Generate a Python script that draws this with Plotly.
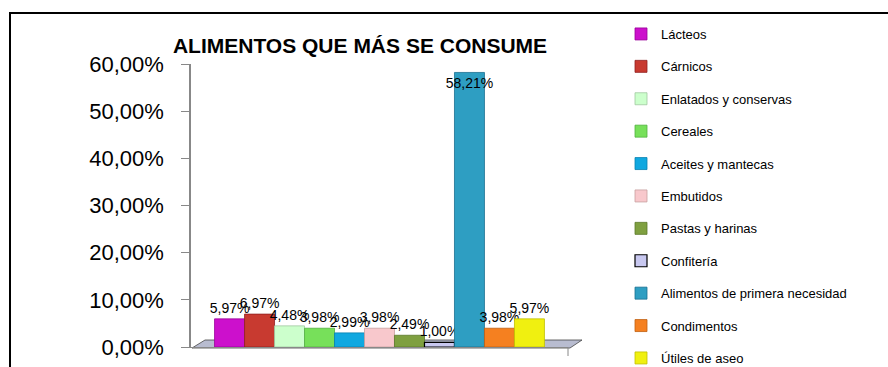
import plotly.graph_objects as go

categories = ["Lácteos", "Cárnicos", "Enlatados y conservas", "Cereales",
              "Aceites y mantecas", "Embutidos", "Pastas y harinas", "Confitería",
              "Alimentos de primera necesidad", "Condimentos", "Útiles de aseo"]
values = [5.97, 6.97, 4.48, 3.98, 2.99, 3.98, 2.49, 1.00, 58.21, 3.98, 5.97]
colors = ["#CC10CC", "#C83A30", "#CCFFCC", "#77E05A", "#10A8E0", "#F8C8CC",
          "#7FA040", "#C8C8F0", "#2E9EC2", "#F58020", "#F0F010"]
line_colors = ["#990099", "#902020", "#A0C8A0", "#50B040", "#0880B0", "#C8A0A0",
               "#5A7828", "#000000", "#1A7090", "#C06010", "#C0C000"]
y_ticks = [0, 10, 20, 30, 40, 50, 60]
y_tick_text = ["0,00%", "10,00%", "20,00%", "30,00%", "40,00%", "50,00%", "60,00%"]

W, H = 888, 367
L, R, T, B = 191, 568, 64, 347

fig = go.Figure()
for i, (c, v) in enumerate(zip(categories, values)):
    tall = v == max(values)
    fig.add_trace(go.Bar(
        x=["g"], y=[v], name=c, legendgroup=c,
        marker=dict(color=colors[i], line=dict(color=line_colors[i], width=0.8 if i != 7 else 1.2)),
        text=[f"{v:.2f}".replace(".", ",") + "%"],
        textposition="inside" if tall else "outside",
        insidetextanchor="end", textangle=0,
        textfont=dict(family="Liberation Sans, Arial", size=14, color="#000"),
        cliponaxis=False, constraintext="none",
    ))

pw = R - L
ph = B - T
def px(x):
    return (x - L) / pw
def py(y):
    return (B - y) / ph

shapes = [
    # outer frame
    dict(type="rect", xref="paper", yref="paper", x0=px(10), x1=px(900), y0=py(380), y1=py(13),
         line=dict(color="#000", width=2), fillcolor="rgba(0,0,0,0)", layer="below"),
    # 3D floor
    dict(type="path", xref="paper", yref="paper",
         path=f"M {px(192)},{py(348)} L {px(205)},{py(340)} L {px(582)},{py(340)} L {px(570)},{py(348)} Z",
         line=dict(color="#444", width=0.8), fillcolor="#B8BCD0", layer="below"),
    # right floor tick
    dict(type="line", xref="paper", yref="paper", x0=px(568), x1=px(568), y0=py(348), y1=py(356),
         line=dict(color="#888", width=1)),
]

fig.update_layout(
    width=W, height=H,
    margin=dict(l=L, r=W - R, t=T, b=H - B, pad=0, autoexpand=False),
    paper_bgcolor="white", plot_bgcolor="white",
    barmode="group", bargap=0.125, bargroupgap=0,
    title=dict(text="<b>ALIMENTOS QUE MÁS SE CONSUME</b>", xref="container", yref="container",
               x=360 / W, y=1 - 46 / H, xanchor="center", yanchor="middle",
               font=dict(family="Liberation Sans, Arial", size=21, color="#000")),
    xaxis=dict(showticklabels=False, showgrid=False, zeroline=False, automargin=False,
               showline=True, linecolor="#888", linewidth=1, ticks=""),
    yaxis=dict(range=[0, 60], tickvals=y_ticks, ticktext=y_tick_text, automargin=False,
               showgrid=False, zeroline=False, showline=True, linecolor="#888", linewidth=1.5,
               ticks="outside", ticklen=8, tickcolor="#888", ticklabelstandoff=13,
               tickfont=dict(family="Liberation Sans, Arial", size=22, color="#000")),
    legend=dict(xref="container", yref="container", x=621 / W, y=1 - 19 / H,
                xanchor="left", yanchor="top", tracegroupgap=12.5, maxheight=1,
                font=dict(family="Liberation Sans, Arial", size=13, color="#000"),
                bgcolor="rgba(0,0,0,0)", itemwidth=30),
    shapes=shapes,
    showlegend=True,
)

fig.write_html("out.html")
